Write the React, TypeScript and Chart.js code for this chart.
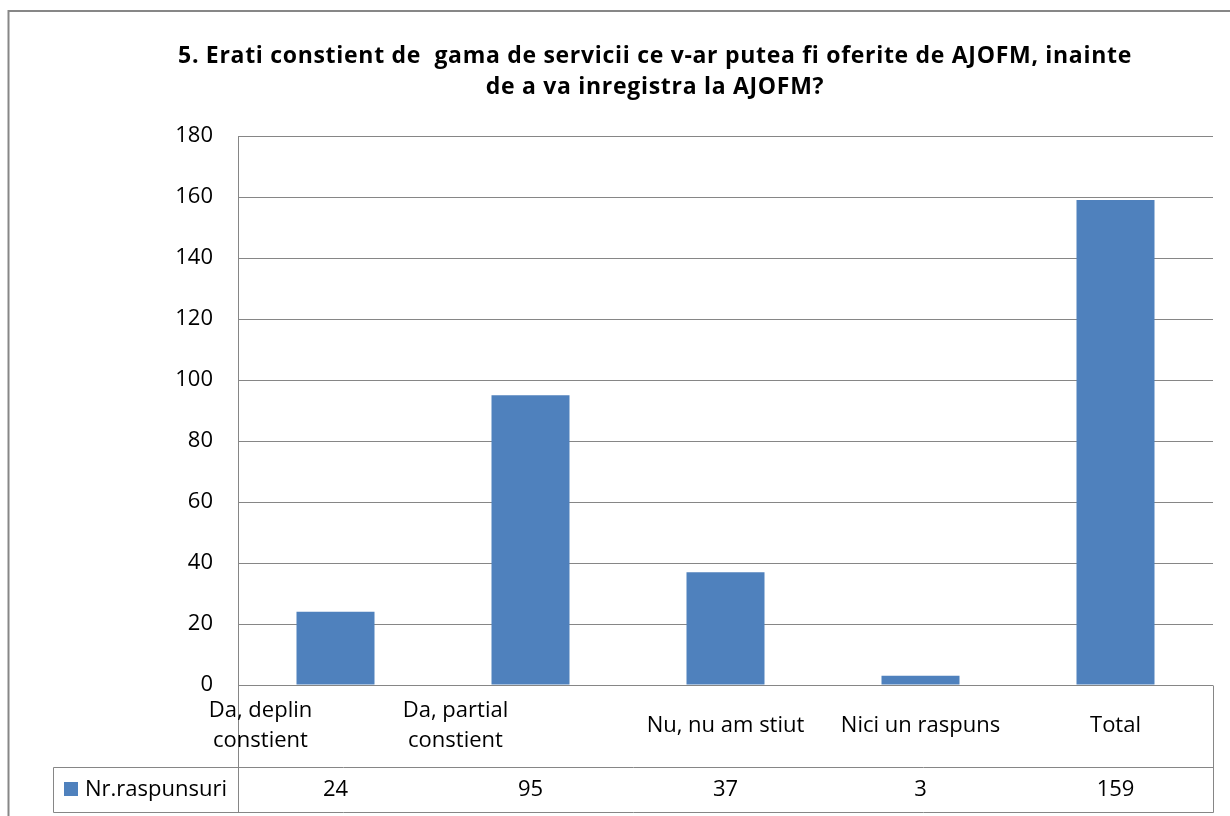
import React, { useEffect, useRef } from "react";
import { Chart, registerables } from "chart.js";

Chart.register(...registerables);

const titleLines = [
  "5. Erati constient de  gama de servicii ce v-ar putea fi oferite de AJOFM, inainte",
  "de a va inregistra la AJOFM?",
];
const categories: (string | string[])[] = [
  ["Da, deplin", "constient"],
  ["Da, partial", "constient"],
  "Nu, nu am stiut",
  "Nici un raspuns",
  "Total",
];
const seriesName = "Nr.raspunsuri";
const seriesValues = [24, 95, 37, 3, 159];
const yTicks = { min: 0, max: 180, step: 20 };

const BAR_COLOR = "#4F81BD";
const LINE_COLOR = "#868686";
const FONT = "'Open Sans', 'Noto Sans', sans-serif";

const titlePlugin = {
  id: "customTitle",
  afterDraw(chart: any) {
    const ctx = chart.ctx as CanvasRenderingContext2D;
    ctx.save();
    ctx.fillStyle = "#000";
    ctx.font = `bold 23px ${FONT}`;
    (ctx as any).letterSpacing = "0.7px";
    ctx.textAlign = "center";
    ctx.textBaseline = "middle";
    const cx = 655;
    titleLines.forEach((line, i) => {
      ctx.fillText(line, cx, 56 + i * 31);
    });
    ctx.restore();
  },
};

const tablePlugin = {
  id: "dataTable",
  afterDraw(chart: any) {
    const ctx = chart.ctx as CanvasRenderingContext2D;
    const area = chart.chartArea;
    const xScale = chart.scales.x;
    const rowTop = area.bottom;
    const rowMid = rowTop + 82;
    const rowBottom = rowMid + 45;
    const tableLeft = 53;
    const right = area.right;
    ctx.save();
    ctx.strokeStyle = "#878787";
    ctx.lineWidth = 2;
    ctx.strokeRect(8.5, 11, 1400, 1000);
    ctx.strokeStyle = LINE_COLOR;
    ctx.lineWidth = 1;
    const hx = (v: number) => Math.round(v) + 0.5;
    ctx.beginPath();
    ctx.moveTo(hx(area.left), hx(rowTop));
    ctx.lineTo(hx(area.left), hx(rowBottom));
    ctx.moveTo(hx(right), hx(rowTop));
    ctx.lineTo(hx(right), hx(rowBottom));
    ctx.moveTo(hx(tableLeft), hx(rowMid));
    ctx.lineTo(hx(right), hx(rowMid));
    ctx.moveTo(hx(tableLeft), hx(rowBottom));
    ctx.lineTo(hx(right), hx(rowBottom));
    ctx.moveTo(hx(tableLeft), hx(rowMid));
    ctx.lineTo(hx(tableLeft), hx(rowBottom));
    ctx.stroke();
    ctx.fillStyle = "#000";
    ctx.font = `22px ${FONT}`;
    ctx.textAlign = "center";
    ctx.textBaseline = "middle";
    const labelMid = (rowTop + rowMid) / 2;
    categories.forEach((c, i) => {
      const x = xScale.getPixelForValue(i);
      if (Array.isArray(c)) {
        const lh = 30;
        const x0 = x - 75;
        c.forEach((line, j) => {
          ctx.fillText(line, x0, labelMid + (j - (c.length - 1) / 2) * lh);
        });
      } else {
        ctx.fillText(c, x, labelMid);
      }
    });
    const valMid = (rowMid + rowBottom) / 2;
    seriesValues.forEach((v, i) => {
      ctx.fillText(String(v), xScale.getPixelForValue(i), valMid);
    });
    ctx.fillStyle = BAR_COLOR;
    ctx.fillRect(64, Math.round(valMid) - 8, 14, 14);
    ctx.fillStyle = "#000";
    ctx.textAlign = "left";
    ctx.fillText(seriesName, 85, valMid);
    ctx.restore();
  },
};

export default function App() {
  const ref = useRef<HTMLCanvasElement | null>(null);
  useEffect(() => {
    if (!ref.current) return;
    const chart = new Chart(ref.current, {
      type: "bar",
      data: {
        labels: categories as any,
        datasets: [
          {
            label: seriesName,
            data: seriesValues,
            backgroundColor: BAR_COLOR,
            barPercentage: 0.4,
            categoryPercentage: 1.0,
          },
        ],
      },
      options: {
        animation: false,
        responsive: false,
        layout: { padding: { left: 0, right: 17, top: 136, bottom: 131 } },
        plugins: {
          legend: { display: false },
          tooltip: { enabled: false },
          title: { display: false },
        },
        scales: {
          x: { display: false },
          y: {
            min: yTicks.min,
            max: yTicks.max,
            ticks: {
              stepSize: yTicks.step,
              color: "#000",
              font: { family: FONT, size: 22 },
              padding: 25,
            },
            grid: { color: LINE_COLOR, drawTicks: false, lineWidth: 1 },
            border: { display: true, color: LINE_COLOR, width: 1 },
            afterFit: (scale: any) => {
              scale.width = 238;
            },
          },
        },
      },
      plugins: [titlePlugin, tablePlugin],
    });
    return () => chart.destroy();
  }, []);
  return (
    <div style={{ position: "absolute", left: 0, top: 0, width: 1230, height: 816, background: "#fff" }}>
      <canvas ref={ref} width={1230} height={816} style={{ display: "block" }} />
    </div>
  );
}
